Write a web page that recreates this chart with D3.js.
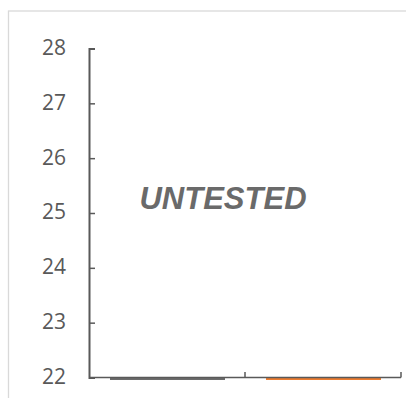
<!DOCTYPE html>
<html>
<head>
<meta charset="utf-8">
<script src="https://cdn.jsdelivr.net/npm/d3@7"></script>
<style>
  html, body { margin: 0; padding: 0; background: #fff; }
  svg { display: block; }
</style>
</head>
<body>
<svg id="chart" width="406" height="398"></svg>
<script>
// ---- data ----
const categories = ["A", "B"];
const values = [22, 22];
const barColors = ["#6b6b6b", "#ED7D31"];
const yTicks = [22, 23, 24, 25, 26, 27, 28];
const yDomain = [22, 28];
const overlayText = "UNTESTED";

// ---- layout ----
const svg = d3.select("#chart");
const plot = { left: 89, right: 401, top: 48.5, bottom: 377.5 };
const axisColor = "#595959";

// chart area border (extends past the viewport on right/bottom)
svg.append("rect")
  .attr("x", 8.5).attr("y", 11)
  .attr("width", 600).attr("height", 600)
  .attr("fill", "none")
  .attr("stroke", "#d9d9d9")
  .attr("stroke-width", 1.3);

const y = d3.scaleLinear().domain(yDomain).range([plot.bottom, plot.top]);
const x = d3.scaleBand().domain(categories)
  .range([plot.left, plot.right])
  .paddingInner(0.263).paddingOuter(0.1315);

// bars (values at the axis minimum -> drawn as thin strips at the baseline)
svg.append("g").selectAll("rect")
  .data(categories.map((c, i) => ({ c, v: values[i], color: barColors[i] })))
  .join("rect")
  .attr("x", d => Math.round(x(d.c)))
  .attr("width", Math.round(x.bandwidth()))
  .attr("y", d => y(d.v) + 0.5)
  .attr("height", d => Math.max(2, y(yDomain[0]) - y(d.v)))
  .attr("fill", d => d.color)
  .attr("shape-rendering", "crispEdges");

// y axis
const yAxis = d3.axisLeft(y)
  .tickValues(yTicks)
  .tickFormat(d3.format("d"))
  .tickSizeInner(-6)
  .tickSizeOuter(-6)
  .tickPadding(23);

const gy = svg.append("g")
  .attr("transform", `translate(${plot.left},0)`)
  .call(yAxis);
gy.select(".domain").attr("stroke", axisColor).attr("stroke-width", 2);
gy.selectAll(".tick line").attr("stroke", axisColor).attr("stroke-width", 1.5);
gy.selectAll(".tick text")
  .attr("fill", axisColor)
  .style("font-family", "'Open Sans', 'Noto Sans', sans-serif")
  .style("font-size", "21px")
  .attr("dy", "0.28em");

// x axis: line with tick marks at category boundaries
const gx = svg.append("g");
gx.append("line")
  .attr("x1", plot.left).attr("x2", plot.right)
  .attr("y1", y(yDomain[0])).attr("y2", y(yDomain[0]))
  .attr("stroke", axisColor).attr("stroke-width", 1.5);
const boundaries = categories.map(c => x(c) - x.step() * x.paddingInner() / 2 + x.step())
  .map(b => Math.min(b, plot.right));
boundaries[boundaries.length - 1] = plot.right;
gx.selectAll("line.tk")
  .data(boundaries)
  .join("line")
  .attr("class", "tk")
  .attr("x1", d => d).attr("x2", d => d)
  .attr("y1", y(yDomain[0])).attr("y2", y(yDomain[0]) - 5.5)
  .attr("stroke", axisColor).attr("stroke-width", 1.5);

// overlay label
svg.append("text")
  .attr("x", 223)
  .attr("y", 209)
  .attr("text-anchor", "middle")
  .attr("fill", "#6a6a6a")
  .style("font-family", "'Liberation Sans', Arial, sans-serif")
  .style("font-weight", "bold")
  .style("font-style", "italic")
  .style("font-size", "31px")
  .text(overlayText);
</script>
</body>
</html>
